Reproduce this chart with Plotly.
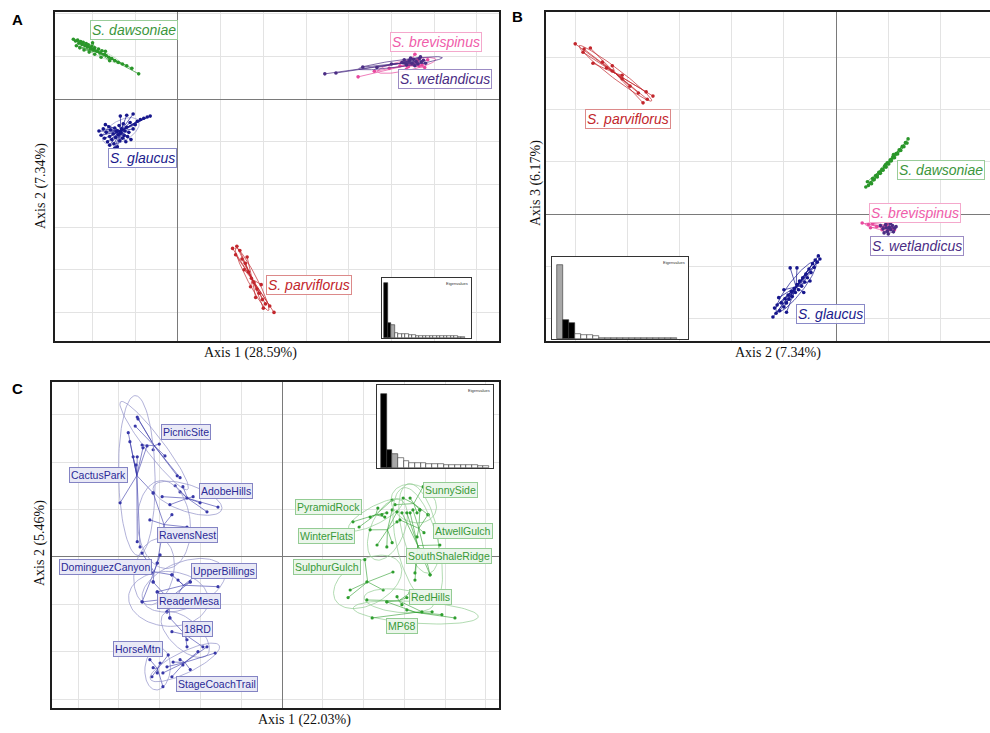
import numpy as np
import plotly.graph_objects as go

W, H = 990, 733

# ---------------- Panel A : Axis 1 (28.59%) x Axis 2 (7.34%)  (grid units) ----------------
A_dawsoniae = [(-2.45,1.40),(-2.40,1.36),(-2.35,1.38),(-2.32,1.31),(-2.28,1.35),(-2.25,1.28),(-2.22,1.33),
               (-2.18,1.25),(-2.15,1.30),(-2.12,1.22),(-2.10,1.27),(-2.05,1.18),(-2.02,1.24),(-1.98,1.15),
               (-1.95,1.20),(-1.90,1.12),(-1.86,1.17),(-1.82,1.08),(-1.78,1.13),(-1.72,1.05),(-1.68,1.02),
               (-1.62,0.98),(-1.55,0.95),(-1.48,0.90),(-1.40,0.86),(-1.30,0.82),(-1.20,0.78),(-1.08,0.72),
               (-0.92,0.59),(-2.30,1.20),(-2.20,1.15),(-2.08,1.10),(-1.95,1.05),(-1.80,0.98),(-1.60,0.90),
               (-2.38,1.25),(-2.00,1.32),(-1.70,1.12)]
A_glaucus = [(-1.85,-0.75),(-1.80,-0.85),(-1.75,-0.70),(-1.72,-0.92),(-1.68,-0.78),(-1.65,-1.00),(-1.62,-0.65),
             (-1.60,-0.88),(-1.58,-0.72),(-1.55,-0.95),(-1.52,-0.82),(-1.50,-1.05),(-1.48,-0.68),(-1.46,-0.90),
             (-1.44,-0.76),(-1.42,-1.12),(-1.40,-0.84),(-1.38,-0.62),(-1.36,-0.98),(-1.34,-0.80),(-1.32,-0.70),
             (-1.30,-0.92),(-1.28,-0.58),(-1.26,-0.86),(-1.24,-0.75),(-1.22,-1.00),(-1.20,-0.66),(-1.18,-0.88),
             (-1.15,-0.78),(-1.12,-0.55),(-1.10,-0.95),(-1.05,-0.70),(-1.00,-0.60),(-0.95,-0.52),(-0.88,-0.48),
             (-0.80,-0.45),(-0.72,-0.42),(-0.65,-0.40),(-1.20,-0.38),(-1.35,-0.40),(-1.05,-0.35),(-1.70,-0.60),
             (-1.60,-1.08),(-1.48,-1.15)]
A_wetlandicus = [(3.44,0.59),(3.70,0.61),(4.33,0.75),(4.66,0.74),(5.00,0.82),(5.25,0.86),(5.35,0.80),(5.42,0.90),
                 (5.48,0.84),(5.52,0.93),(5.58,0.88),(5.62,0.82),(5.66,0.95),(5.70,0.87),(5.75,0.91),(5.80,0.84),
                 (5.45,0.96),(5.55,0.78),(5.68,0.99),(5.30,0.92)]
A_brevispinus = [(4.22,0.52),(4.60,0.65),(4.95,0.72),(5.20,0.78),(5.40,0.76),(5.50,0.82),(5.60,0.86),(5.65,0.78),
                 (5.72,0.80),(5.55,1.05),(5.85,0.92),(5.78,0.74),(5.35,0.70),(5.62,0.92)]
A_parviflorus = [(1.28,-3.50),(1.38,-3.45),(1.45,-3.55),(1.35,-3.65),(1.50,-3.75),(1.58,-3.85),(1.55,-4.00),
                 (1.65,-4.05),(1.72,-4.20),(1.78,-4.30),(1.70,-4.40),(1.85,-4.45),(1.90,-4.55),(1.82,-4.65),
                 (1.98,-4.70),(2.05,-4.80),(2.00,-4.90),(2.15,-4.85),(2.25,-5.00),(1.62,-3.70),(1.95,-4.35)]
A_labels = ["S. dawsoniae", "S. glaucus", "S. brevispinus", "S. wetlandicus", "S. parviflorus"]
A_label_pos = [(-1.03,1.62), (-0.84,-1.38), (6.04,1.33), (6.25,0.47), (3.07,-4.36)]
A_eigen = [9.2,2.5,2.2,0.8,0.75,0.7,0.65,0.45,0.42,0.40,0.38,0.36,0.34,0.33,0.32,0.31,0.30,0.29,0.28,0.27,0.26,0.25,0.24]
A_eigen_col = ["black","black","#A8A8A8"] + ["white"]*20

# ---------------- Panel B : Axis 2 (7.34%) x Axis 3 (6.17%) ----------------
B_parviflorus = [(-5.00,3.26),(-4.83,3.16),(-4.71,3.18),(-4.66,2.89),(-4.48,2.91),(-4.29,2.84),(-4.29,2.74),
                 (-4.10,2.66),(-4.10,2.59),(-3.79,2.32),(-3.64,2.34),(-3.51,2.26),(-3.62,2.20),(-3.70,2.13),
                 (-4.85,3.10),(-4.40,2.80),(-3.95,2.45)]
B_dawsoniae = [(0.57,0.52),(0.62,0.55),(0.60,0.62),(0.66,0.60),(0.70,0.68),(0.73,0.66),(0.76,0.74),(0.79,0.71),
               (0.82,0.80),(0.85,0.78),(0.88,0.86),(0.90,0.84),(0.93,0.92),(0.96,0.90),(0.98,0.98),(1.01,0.96),
               (1.04,1.04),(1.06,1.02),(1.09,1.10),(1.12,1.08),(1.15,1.16),(1.18,1.15),(1.21,1.23),(1.24,1.22),
               (1.27,1.30),(1.30,1.29),(1.33,1.37),(1.36,1.36),(1.38,1.44),(0.68,0.58),(0.95,0.95),(1.10,1.14)]
B_wetlandicus = [(0.85,-0.22),(0.90,-0.28),(0.95,-0.20),(0.98,-0.33),(1.02,-0.25),(1.05,-0.30),(1.08,-0.22),
                 (1.12,-0.27),(0.92,-0.36),(1.00,-0.38),(1.10,-0.34),(0.96,-0.26),(1.04,-0.18),(1.15,-0.24)]
B_brevispinus = [(0.50,-0.17),(0.62,-0.20),(0.70,-0.18),(0.78,-0.24),(0.88,-0.30),(0.94,-0.24),(1.00,-0.31),
                 (1.06,-0.27),(1.12,-0.30),(0.98,-0.20),(0.66,-0.26)]
B_glaucus = [(-1.21,-1.97),(-1.15,-1.90),(-1.13,-1.74),(-1.08,-1.85),(-1.05,-1.70),(-1.00,-1.78),(-0.98,-1.62),
             (-0.95,-1.70),(-0.92,-1.55),(-0.90,-1.63),(-0.86,-1.48),(-0.84,-1.58),(-0.80,-1.42),(-0.78,-1.50),
             (-0.75,-1.35),(-0.72,-1.45),(-0.70,-1.28),(-0.66,-1.38),(-0.64,-1.22),(-0.60,-1.30),(-0.58,-1.15),
             (-0.55,-1.22),(-0.52,-1.05),(-0.48,-1.12),(-0.45,-0.95),(-0.42,-1.02),(-0.40,-0.88),(-0.36,-0.92),
             (-0.34,-0.80),(-0.31,-0.86),(-0.88,-1.03),(-0.75,-1.03),(-1.00,-1.45),(-1.10,-1.60),(-0.62,-1.50),
             (-0.50,-1.28),(-1.18,-1.80),(-0.95,-1.88)]
B_labels = ["S. parviflorus", "S. dawsoniae", "S. brevispinus", "S. wetlandicus", "S. glaucus"]
B_label_pos = [(-3.98,1.82), (2.01,0.84), (1.51,0.02), (1.55,-0.61), (-0.10,-1.92)]
B_eigen = [9.0,2.3,2.0,0.55,0.5,0.45,0.35] + [0.15]*13
B_eigen_col = ["#A8A8A8","black","black"] + ["white"]*17

# ---------------- Panel C : populations, Axis 1 (22.03%) x Axis 2 (5.46%) ----------------
C_PicnicSite = [(-3.55,2.95),(-3.53,2.91),(-3.60,2.76),(-3.01,2.38),(-2.87,2.13),(-2.57,1.71),(-2.50,1.67),(-3.16,2.26),(-3.43,2.36)]
C_CactusPark = [(-3.77,2.62),(-3.73,2.43),(-3.65,2.11),(-3.55,2.11),(-3.58,1.94),(-3.97,1.14),(-3.16,1.35),(-3.55,0.32),(-3.48,0.21),(-3.41,2.30),(-3.31,2.34)]
C_AdobeHills = [(-2.62,1.50),(-2.50,1.37),(-2.33,1.24),(-2.18,1.27),(-2.01,1.14),(-1.84,0.95),(-1.57,1.05),(-2.75,1.10),(-2.94,1.27),(-2.43,1.48)]
C_RavensNest = [(-2.33,0.63),(-3.06,-0.13),(-3.16,1.35),(-3.24,0.78),(-2.87,0.57),(-2.70,0.89)]
C_DominguezCanyon = [(-3.43,0.08),(-3.06,-0.13),(-3.19,-0.34),(-3.16,-0.53),(-3.43,-0.95),(-2.70,-0.38),(-2.99,0.04)]
C_UpperBillings = [(-2.70,-0.38),(-2.55,-0.49),(-2.25,-0.53),(-1.57,-0.63),(-2.82,-1.16),(-3.06,-0.74),(-1.94,-0.27)]
C_ReaderMesa = [(-3.43,-0.95),(-3.06,-0.74),(-2.75,-1.29),(-2.82,-1.16),(-3.16,-0.53),(-2.25,-0.53),(-2.01,-1.01)]
C_18RD = [(-2.70,-1.58),(-2.33,-1.75),(-2.33,-1.90),(-2.75,-1.29),(-1.94,-1.90),(-2.18,-1.43)]
C_HorseMtn = [(-2.99,-2.24),(-3.16,-2.34),(-3.06,-2.45),(-3.19,-2.53),(-2.92,-2.74),(-2.79,-2.07),(-3.24,-2.17)]
C_StageCoachTrail = [(-2.67,-2.22),(-2.43,-2.28),(-2.70,-2.53),(-2.06,-2.00),(-1.84,-1.90),(-1.64,-2.03),(-2.50,-2.17),(-2.92,-2.45),(-2.82,-2.32),(-2.25,-2.38)]
C_SunnySide = [(3.46,1.48),(2.97,1.24),(3.14,1.24),(3.38,0.99),(3.58,0.89),(3.31,0.93),(2.77,1.10)]
C_PyramidRock = [(2.16,0.84),(2.35,1.03),(2.45,0.89),(2.52,0.84),(2.57,0.93),(1.74,0.74),(1.89,0.63),(2.70,1.20)]
C_AtwellGulch = [(3.48,0.51),(3.31,0.42),(3.58,0.89),(3.21,0.99),(3.38,0.99),(3.63,-0.38),(2.89,0.78)]
C_WinterFlats = [(2.82,0.74),(2.33,0.25),(2.57,0.21),(2.70,0.30),(2.70,0.99),(2.82,0.95),(2.16,0.57)]
C_SouthShaleRidge = [(3.46,0.08),(3.26,-0.34),(3.26,-0.49),(3.63,-0.38),(2.94,0.93),(3.06,0.93),(3.14,0.93),(3.87,0.25)]
C_SulphurGulch = [(2.08,-0.53),(2.72,-0.32),(1.67,-0.70),(1.62,-0.86),(2.48,-0.70),(2.03,-0.06)]
C_RedHills = [(3.14,-0.76),(2.82,-0.84),(3.06,-0.86),(2.94,-1.01),(3.43,-1.16),(2.57,-0.95),(2.08,-0.91)]
C_MP68 = [(3.06,-1.12),(2.21,-1.29),(3.68,-1.16),(3.92,-1.22),(2.57,-0.95),(4.24,-1.29)]

C_blue_names = ["PicnicSite","CactusPark","AdobeHills","RavensNest","DominguezCanyon",
                "UpperBillings","ReaderMesa","18RD","HorseMtn","StageCoachTrail"]
C_blue_pops = [C_PicnicSite, C_CactusPark, C_AdobeHills, C_RavensNest, C_DominguezCanyon,
               C_UpperBillings, C_ReaderMesa, C_18RD, C_HorseMtn, C_StageCoachTrail]
C_blue_label_pos = [(-2.35,2.64),(-4.51,1.73),(-1.37,1.39),(-2.33,0.46),(-4.34,-0.21),
                    (-1.42,-0.30),(-2.28,-0.93),(-2.08,-1.52),(-3.53,-1.94),(-1.59,-2.68)]
C_green_names = ["SunnySide","PyramidRock","AtwellGulch","WinterFlats","SouthShaleRidge",
                 "SulphurGulch","RedHills","MP68"]
C_green_pops = [C_SunnySide, C_PyramidRock, C_AtwellGulch, C_WinterFlats, C_SouthShaleRidge,
                C_SulphurGulch, C_RedHills, C_MP68]
C_green_label_pos = [(4.14,1.41),(1.13,1.05),(4.44,0.55),(1.08,0.44),(4.09,0.02),
                     (1.10,-0.21),(3.65,-0.84),(2.94,-1.46)]
C_eigen = [8.9,2.2,1.7,1.2,0.85,0.65,0.6,0.55,0.5,0.48,0.45,0.42,0.40,0.38,0.36,0.34,0.32,0.30,0.28]
C_eigen_col = ["black","black","#A8A8A8"] + ["white"]*16

# ---------------- layout geometry (pixels -> paper) ----------------
def dx(a, b):
    return [a / W, b / W]

def dy(top, bottom):
    return [1 - bottom / H, 1 - top / H]

fig = go.Figure()

def add_class(pts, color, xa, ya, ell_color, size=3.6, lw=0.7, ell_w=0.7, cell=1.5):
    xs = np.array([p[0] for p in pts]); ys = np.array([p[1] for p in pts])
    cx, cy = xs.mean(), ys.mean()
    cov = np.cov(np.vstack([xs, ys]), bias=True)
    vals, vecs = np.linalg.eigh(cov)
    t = np.linspace(0, 2 * np.pi, 90)
    circ = np.vstack([np.cos(t), np.sin(t)])
    ell = vecs @ (cell * np.sqrt(np.maximum(vals, 0))[:, None] * circ)
    fig.add_trace(go.Scatter(x=cx + ell[0], y=cy + ell[1], mode="lines",
                             line=dict(color=ell_color, width=ell_w), xaxis=xa, yaxis=ya,
                             hoverinfo="skip", showlegend=False))
    sx, sy = [], []
    for x, y in zip(xs, ys):
        sx += [cx, x, None]; sy += [cy, y, None]
    fig.add_trace(go.Scatter(x=sx, y=sy, mode="lines", line=dict(color=color, width=lw),
                             xaxis=xa, yaxis=ya, hoverinfo="skip", showlegend=False))
    fig.add_trace(go.Scatter(x=xs, y=ys, mode="markers", marker=dict(color=color, size=size),
                             xaxis=xa, yaxis=ya, hoverinfo="skip", showlegend=False))

GREEN = "#2A962A"; BLUE = "#16168C"; PINK = "#E8489E"; PURPLE = "#4A2C84"; RED = "#C2262C"

# Panel A
add_class(A_dawsoniae, GREEN, "x", "y", "#B8D8B8")
add_class(A_glaucus, BLUE, "x", "y", "#9090C8")
add_class(A_brevispinus, PINK, "x", "y", PINK)
add_class(A_wetlandicus, PURPLE, "x", "y", PURPLE)
add_class(A_parviflorus, RED, "x", "y", RED)
# Panel B
add_class(B_parviflorus, RED, "x2", "y2", RED)
add_class(B_dawsoniae, GREEN, "x2", "y2", GREEN)
add_class(B_brevispinus, PINK, "x2", "y2", PINK)
add_class(B_wetlandicus, PURPLE, "x2", "y2", PURPLE)
add_class(B_glaucus, BLUE, "x2", "y2", BLUE)
# Panel C
CBLUE = "#3838A8"; CGREEN = "#2E9E2E"
for pop in C_blue_pops:
    add_class(pop, CBLUE, "x3", "y3", "#9090C8", size=3.2, lw=0.6, ell_w=0.7, cell=2.1)
for pop in C_green_pops:
    add_class(pop, CGREEN, "x3", "y3", "#90CC90", size=3.2, lw=0.6, ell_w=0.7, cell=2.1)

# Eigenvalue insets: white panel (a wide bar) then the eigenvalue bars on top
def add_inset(vals, cols, xa, ya, xr, yr):
    fig.add_trace(go.Bar(x=[(xr[0] + xr[1]) / 2], y=[yr[1] - yr[0]], base=[yr[0]], width=[xr[1] - xr[0]],
                         marker=dict(color="white", line=dict(width=0)),
                         xaxis=xa, yaxis=ya, hoverinfo="skip", showlegend=False))
    fig.add_trace(go.Bar(x=list(range(len(vals))), y=vals, marker=dict(color=cols, line=dict(color="#333", width=0.6)),
                         width=1.0, xaxis=xa, yaxis=ya, hoverinfo="skip", showlegend=False))

A_in_xr = [-1.07, 24.2]; A_in_yr = [0, 10]
B_in_xr = [-1.33, 21.3]; B_in_yr = [0, 10]
C_in_xr = [-1.2, 19.2]; C_in_yr = [0, 10]
add_inset(A_eigen, A_eigen_col, "x4", "y4", A_in_xr, A_in_yr)
add_inset(B_eigen, B_eigen_col, "x5", "y5", B_in_xr, B_in_yr)
add_inset(C_eigen, C_eigen_col, "x6", "y6", C_in_xr, C_in_yr)

def main_axis(domain, rng, anchor, mirror=True):
    return dict(domain=domain, range=rng, anchor=anchor, dtick=1, tick0=0, showgrid=True,
                gridcolor="#E3E3E3", gridwidth=1, zeroline=True, zerolinecolor="#7A7A7A",
                zerolinewidth=1, showticklabels=False, ticks="", showline=True, linecolor="#1E1E1E",
                linewidth=2, mirror=mirror, fixedrange=True)

def inset_axis(domain, rng, anchor):
    return dict(domain=domain, range=rng, anchor=anchor, showgrid=False, zeroline=False,
                showticklabels=False, ticks="", showline=True, linecolor="#333", linewidth=1,
                mirror=True, fixedrange=True)

A_xr = [-2.88, 7.52]; A_yr = [-5.67, 2.04]
B_xr = [-5.56, 2.95]; B_yr = [-2.43, 3.87]
C_xr = [-5.64, 5.32]; C_yr = [-3.19, 3.69]

layout = dict(
    width=W, height=H, margin=dict(l=0, r=0, t=0, b=0),
    paper_bgcolor="white", plot_bgcolor="white", showlegend=False, bargap=0, barmode="overlay",
    font=dict(family="Liberation Sans, Arial, sans-serif", color="black"),
    xaxis=main_axis(dx(55, 499), A_xr, "y"), yaxis=main_axis(dy(12, 341), A_yr, "x"),
    xaxis2=main_axis(dx(546, 990), B_xr, "y2"), yaxis2=main_axis(dy(12, 341), B_yr, "x2", mirror=False),
    xaxis3=main_axis(dx(52, 499), C_xr, "y3"), yaxis3=main_axis(dy(382, 708), C_yr, "x3"),
    xaxis4=inset_axis(dx(382, 471), A_in_xr, "y4"), yaxis4=inset_axis(dy(278, 338), A_in_yr, "x4"),
    xaxis5=inset_axis(dx(552, 688), B_in_xr, "y5"), yaxis5=inset_axis(dy(257, 339), B_in_yr, "x5"),
    xaxis6=inset_axis(dx(377, 493), C_in_xr, "y6"), yaxis6=inset_axis(dy(385, 468), C_in_yr, "x6"),
)
fig.update_layout(**layout)

ann = []
def species_label(text, pos, color, border, xa, ya):
    ann.append(dict(x=pos[0], y=pos[1], xref=xa, yref=ya, text="<i>" + text + "</i>", showarrow=False,
                    xanchor="center", yanchor="middle",
                    font=dict(size=14, color=color, family="Liberation Sans, Arial"),
                    bgcolor="rgba(255,255,255,0.9)", bordercolor=border, borderwidth=1, borderpad=1))

A_colors = [("#3C963C", "#9ACC9A"), ("#1A1A8C", "#8A8AC8"), ("#F05CAA", "#F4A8CC"),
            ("#4A2C84", "#9C8CC4"), ("#C2262C", "#DC8A8A")]
for t, p, (c, b) in zip(A_labels, A_label_pos, A_colors):
    species_label(t, p, c, b, "x", "y")
B_colors = [A_colors[4], A_colors[0], A_colors[2], A_colors[3], A_colors[1]]
for t, p, (c, b) in zip(B_labels, B_label_pos, B_colors):
    species_label(t, p, c, b, "x2", "y2")

def pop_label(text, pos, color, bg, border):
    ann.append(dict(x=pos[0], y=pos[1], xref="x3", yref="y3", text=text, showarrow=False,
                    xanchor="center", yanchor="middle",
                    font=dict(size=10.5, color=color, family="Liberation Sans, Arial"),
                    bgcolor=bg, bordercolor=border, borderwidth=1, borderpad=1))

for t, p in zip(C_blue_names, C_blue_label_pos):
    pop_label(t, p, "#2A2A96", "rgba(232,232,246,0.95)", "#8484C4")
for t, p in zip(C_green_names, C_green_label_pos):
    pop_label(t, p, "#389A38", "rgba(234,246,234,0.95)", "#94CC94")

# "Eigenvalues" captions in insets
for xa, ya, xr, yr in [("x4", "y4", A_in_xr, A_in_yr), ("x5", "y5", B_in_xr, B_in_yr), ("x6", "y6", C_in_xr, C_in_yr)]:
    ann.append(dict(x=xr[1], y=yr[1], xref=xa, yref=ya, text="Eigenvalues", showarrow=False,
                    xanchor="right", yanchor="top", xshift=-1, yshift=-1,
                    font=dict(size=4, color="#333")))

# axis titles
def title(text, x, y, rot=0):
    ann.append(dict(x=x / W, y=1 - y / H, xref="paper", yref="paper", text=text, showarrow=False,
                    xanchor="center", yanchor="middle", textangle=rot,
                    font=dict(size=14, family="Liberation Serif, Times New Roman, serif", color="#111")))

title("Axis 1 (28.59%)", 250, 353)
title("Axis 2 (7.34%)", 41, 186, -90)
title("Axis 2 (7.34%)", 778, 353)
title("Axis 3 (6.17%)", 536, 183, -90)
title("Axis 1 (22.03%)", 304, 720)
title("Axis 2 (5.46%)", 40, 543, -90)

# panel letters
for letter, x, y in [("A", 17, 19), ("B", 517, 17), ("C", 17, 388)]:
    ann.append(dict(x=x / W, y=1 - y / H, xref="paper", yref="paper", text="<b>" + letter + "</b>",
                    xanchor="center", yanchor="middle",
                    showarrow=False, font=dict(size=15, family="Liberation Sans, Arial", color="black")))

fig.update_layout(annotations=ann)
fig.write_html("out.html", config={"displayModeBar": False},
               post_script="document.body.style.margin='0px';document.body.style.overflow='hidden';")
